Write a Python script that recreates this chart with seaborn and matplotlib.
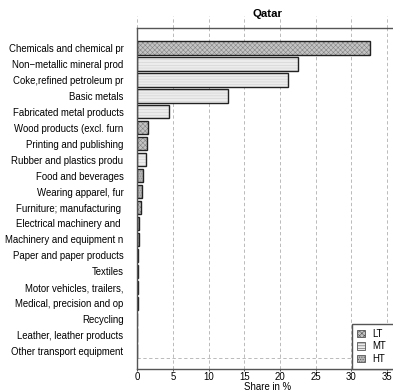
import matplotlib
matplotlib.use("Agg")
import matplotlib.pyplot as plt
from matplotlib.patches import Patch
import seaborn as sns
import pandas as pd

sectors = [
    "Chemicals and chemical pr",
    "Non\u2212metallic mineral prod",
    "Coke,refined petroleum pr",
    "Basic metals",
    "Fabricated metal products",
    "Wood products (excl. furn",
    "Printing and publishing",
    "Rubber and plastics produ",
    "Food and beverages",
    "Wearing apparel, fur",
    "Furniture; manufacturing ",
    "Electrical machinery and ",
    "Machinery and equipment n",
    "Paper and paper products",
    "Textiles",
    "Motor vehicles, trailers,",
    "Medical, precision and op",
    "Recycling",
    "Leather, leather products",
    "Other transport equipment",
]
shares = [32.6, 22.5, 21.1, 12.7, 4.5, 1.5, 1.3, 1.2, 0.8, 0.6, 0.55,
          0.25, 0.2, 0.1, 0.06, 0.06, 0.05, 0.0, 0.0, 0.0]
tech = ["LT", "MT", "MT", "MT", "MT", "LT", "LT", "MT", "HT", "HT", "LT",
        "HT", "HT", "LT", "LT", "HT", "HT", "LT", "LT", "HT"]
levels = ["LT", "MT", "HT"]
x_ticks = [0, 5, 10, 15, 20, 25, 30, 35]

fill = {"LT": "#c4c4c4", "MT": "#ececec", "HT": "#b4b4b4"}
hatch = {"LT": "xxxxxxx", "MT": "------", "HT": "......."}
hatch_col = {"LT": "#858585", "MT": "#d0d0d0", "HT": "#8e8e8e"}

df = pd.DataFrame({"sector": sectors, "share": shares, "tech": tech})

plt.rcParams["font.family"] = ["Liberation Sans", "DejaVu Sans"]
plt.rcParams["hatch.linewidth"] = 0.4

FS = 6.9

fig = plt.figure(figsize=(3.93, 3.92), dpi=100)
ax = fig.add_axes([137.3 / 393, 1 - 369 / 392, 261 / 393, 341 / 392])

# textured fill
sns.barplot(data=df, x="share", y="sector", hue="tech", hue_order=levels,
            order=sectors, orient="h", dodge=False, width=0.84,
            palette=fill, linewidth=0, legend=False, ax=ax)
for lvl, cont in zip(levels, ax.containers):
    for p in cont:
        p.set_hatch(hatch[lvl])
        p.set_edgecolor(hatch_col[lvl])
        p.set_linewidth(0)
# outlines
sns.barplot(data=df, x="share", y="sector", hue="tech", hue_order=levels,
            order=sectors, orient="h", dodge=False, width=0.84,
            fill=False, linewidth=1.0, palette={k: "#222222" for k in levels},
            legend=False, ax=ax)
for cont in ax.containers[len(levels):]:
    for p in cont:
        p.set_edgecolor("#222222")
        p.set_linewidth(1.0)

ax.set_xlim(0, 36.6)
ax.set_ylim(20.12, -1.25)
ax.set_xticks(x_ticks)
ax.set_xticklabels([str(t) for t in x_ticks], fontsize=FS)
ax.tick_params(axis="x", length=1.5, width=0.6, pad=1, color="#333333")
ax.tick_params(axis="y", length=0, pad=10, labelsize=FS)
ax.set_xlabel("Share in %", fontsize=FS, labelpad=0)
ax.set_ylabel("")

for t in x_ticks:
    ax.axvline(t, color="#b0b0b0", lw=0.6, ls=(0, (4, 3)), zorder=0)
    ax.plot([t, t], [1.0, 1.034], transform=ax.get_xaxis_transform(),
            color="#b0b0b0", lw=0.6, ls=(0, (4, 3)), clip_on=False, zorder=0)
ax.axhline(19.45, color="#b0b0b0", lw=0.6, ls=(0, (4, 3)), zorder=0)

for side in ["top", "bottom", "left", "right"]:
    ax.spines[side].set_color("#555555")
    ax.spines[side].set_linewidth(1.0)

handles = [Patch(facecolor=fill[l], edgecolor="#555555", hatch=hatch[l],
                 linewidth=0.6, label=l) for l in levels]
leg = ax.legend(handles=handles, loc="lower left",
                bbox_to_anchor=(0.822, 0.0, 0.3, 0.13), mode="expand",
                fontsize=FS, frameon=True, fancybox=False, framealpha=1,
                handlelength=0.8, handleheight=0.8, handletextpad=0.8,
                labelspacing=0.25, borderpad=0.55, borderaxespad=0)
leg.get_frame().set_edgecolor("#555555")
leg.get_frame().set_linewidth(1.0)
leg.set_clip_on(False)

ax.set_title("Qatar", fontsize=8.2, fontweight="bold", pad=8)

fig.savefig("out.png", dpi=100)
